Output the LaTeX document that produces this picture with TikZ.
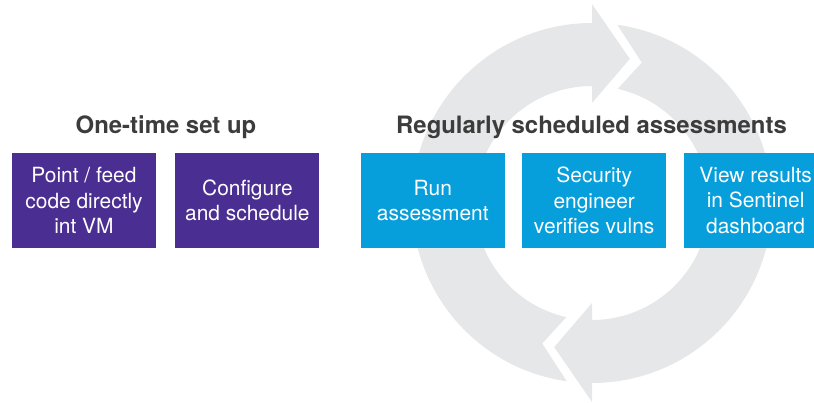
\documentclass[tikz,border=0pt]{standalone}
\usepackage{fontspec}
\setmainfont{TeX Gyre Heros}
\usetikzlibrary{positioning}
\definecolor{setup_purple}{HTML}{4B2E91}
\definecolor{assess_blue}{HTML}{069FDB}
\definecolor{ring_gray}{HTML}{E6E7E8}
\definecolor{head_gray}{HTML}{3C3C3C}
\colorlet{setuppurple}{setup_purple}
\colorlet{assessblue}{assess_blue}
\tikzset{
  ring/.style={fill=ring_gray},
  stepbox/.style={rectangle,inner sep=0pt,minimum width=144bp,minimum height=95bp,align=center,text=white,font=\fontsize{21}{25.5}\selectfont},
  setupbox/.style={stepbox,fill=setuppurple},
  assessbox/.style={stepbox,fill=assessblue},
  phase/.style={anchor=base,inner sep=0pt,text=head_gray,font=\fontsize{24}{28}\selectfont\bfseries},
}

\begin{document}
\begin{tikzpicture}[x=1bp,y=1bp]
	    \useasboundingbox (0,0) rectangle (814,402);
	    % circular arrows behind the assessment steps
	    \begin{scope}[shift={(592,199)}]
	      \fill[ring] (261.9:180) arc[start angle=261.9,end angle=90,radius=180] -- (90:199) -- (75.3:149) -- (90:100) -- (90:117) arc[start angle=90,end angle=257.3,radius=117] -- (250.5:149) -- cycle;
	      \fill[ring] (81.9:180) arc[start angle=81.9,end angle=-90,radius=180] -- (270:199) -- (255.3:149) -- (270:100) -- (270:117) arc[start angle=-90,end angle=77.3,radius=117] -- (70.5:149) -- cycle;
	    \end{scope}
	    \node[setupbox] (POINT) at (84,201.5) {Point / feed\\code directly\\int VM};
	    \node[setupbox,right=19bp of POINT] (CONFIG) {Configure\\and schedule};
	    \node[assessbox,right=41bp of CONFIG] (RUN) {Run\\assessment};
	    \node[assessbox,right=17bp of RUN] (VERIFY) {Security\\engineer\\verifies vulns};
	    \node[assessbox,right=17bp of VERIFY] (VIEW) {View results\\in Sentinel\\dashboard};
	    \node[phase] (ONCE) at (166,269) {One-time set up};
	    \node[phase] (REGULAR) at (591.5,269) {Regularly scheduled assessments};
	\end{tikzpicture}
\end{document}
